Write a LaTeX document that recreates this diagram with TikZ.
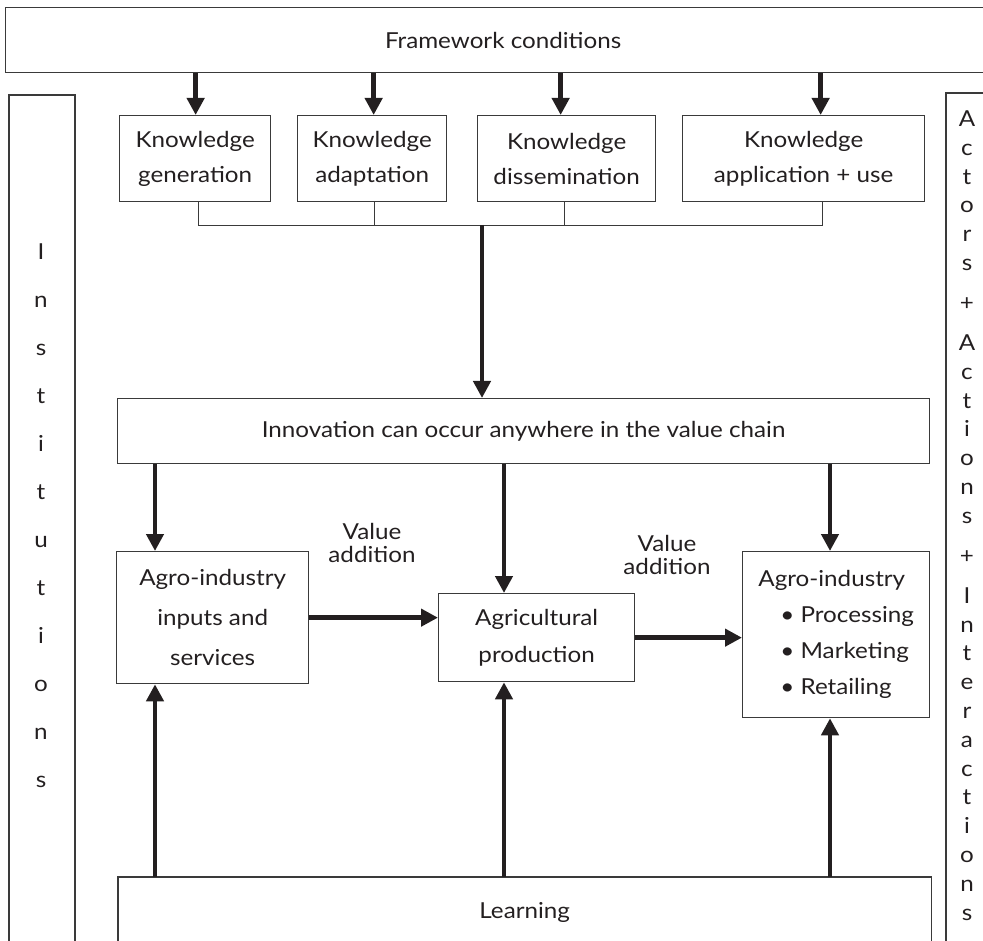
\documentclass[tikz,border=0pt]{standalone}
\usepackage{fontspec}
\setmainfont{Lato}[FakeStretch=1.10]
\usetikzlibrary{arrows.meta,calc}
\definecolor{ink}{HTML}{231F20}
\definecolor{rule}{HTML}{3A3A3A}
\begin{document}
\begin{tikzpicture}[x=1pt,y=-1pt,
  every node/.style={text=ink,font=\fontsize{22}{26}\selectfont},
  box/.style={draw=rule,line width=1.3pt,inner sep=0pt,align=center,anchor=north west},
  arr/.style={line width=4.5pt,draw=ink,-{Triangle[length=17pt,width=17pt]}},
  bus/.style={line width=0.9pt,draw=rule},
  edge/.style={line width=1.3pt,draw=rule},
  letter/.style={anchor=mid,inner sep=0pt}]
\useasboundingbox (0,0) rectangle (983,941);
\clip (0,0) rectangle (983,941);

% outer frame elements
\node[box,minimum width=995pt,minimum height=65pt] (frame) at (5,7) {Framework conditions};
\draw[edge] (9,960) |- (75,95) -- (75,960);
\draw[edge] (946,960) |- (1000,93);

% side labels, one letter per line
\foreach \ch [count=\i from 0] in {I,n,s,t,i,t,u,t,i,o,n,s}
  \node[letter] at (41,257+48*\i) {\ch};
\foreach \ch/\yy in {A/124,c/152.8,t/181.6,o/210.4,r/239.2,s/268,+/308,
  A/348,c/376.8,t/405.6,i/434.4,o/463.2,n/492,s/520.8,+/560.8,
  I/600.8,n/629.6,t/658.4,e/687.2,r/716,a/744.8,c/773.6,t/802.4,
  i/831.2,o/860,n/888.8,s/917.6}
  \node[letter] at (967,\yy) {\ch};

% knowledge boxes
\begin{scope}[every node/.append style={font=\fontsize{22}{35}\selectfont}]
\node[box,minimum width=151pt,minimum height=86pt] (kgen) at (119,115) {Knowledge\\generation};
\node[box,minimum width=149pt,minimum height=86pt] (kada) at (297,115) {Knowledge\\adaptation};
\node[box,minimum width=178pt,minimum height=86pt] (kdis) at (477,115) {Knowledge\\dissemination};
\node[box,minimum width=242pt,minimum height=86pt] (kapp) at (682,115) {Knowledge\\application + use};
\end{scope}

\draw[arr] ([xshift=0.5pt]kgen.north |- frame.south) -- ([xshift=0.5pt]kgen.north);
\draw[arr] ([xshift=1.5pt]kada.north |- frame.south) -- ([xshift=1.5pt]kada.north);
\draw[arr] ([xshift=-6pt]kdis.north |- frame.south) -- ([xshift=-6pt]kdis.north);
\draw[arr] ([xshift=17pt]kapp.north |- frame.south) -- ([xshift=17pt]kapp.north);

% collecting bus under the knowledge boxes
\coordinate (busy) at (0,225);
\coordinate (hub) at (482,225);
\draw[bus] ([xshift=3.5pt]kgen.south) -- ([xshift=3.5pt]kgen.south |- busy)
  -- ([xshift=19pt]kapp.south |- busy) -- ([xshift=19pt]kapp.south);
\draw[bus] ([xshift=2.5pt]kada.south) -- ([xshift=2.5pt]kada.south |- busy);
\draw[bus] ([xshift=-2pt]kdis.south) -- ([xshift=-2pt]kdis.south |- busy);

% innovation band
\node[box,minimum width=812pt,minimum height=65pt] (innov) at (117,398)
  {Innovation can occur anywhere in the value chain};
\draw[arr] (hub) -- (hub |- innov.north);

% value chain stages
\node[box,minimum width=192pt,minimum height=132pt,font=\fontsize{22}{40}\selectfont] (inputs) at (116,551)
  {Agro-industry\\inputs and\\services};
\node[box,minimum width=196pt,minimum height=88pt,font=\fontsize{22}{37}\selectfont] (agri) at (438,593)
  {Agricultural\\production};
\node[box,minimum width=187pt,minimum height=166pt,align=left,font=\fontsize{22}{36}\selectfont] (proc) at (742,551)
  {Agro-industry\\\hspace*{22pt}\textbullet\ Processing\\\hspace*{22pt}\textbullet\ Marketing\\\hspace*{22pt}\textbullet\ Retailing};

\node[align=center,font=\fontsize{22}{23}\selectfont] (va1) at (372,543) {Value\\addition};
\node[align=center,font=\fontsize{22}{23}\selectfont] (va2) at (667,555) {Value\\addition};

\draw[arr] (inputs.east) -- (inputs.east -| agri.west);
\draw[arr] (agri.east) -- (agri.east -| proc.west);

% learning band, open at the bottom
\node[inner sep=0pt,minimum width=813pt,minimum height=70pt,anchor=north west] (learn) at (118,877) {Learning};
\draw[edge] (learn.south west) |- (learn.north east) -- (learn.south east);

% vertical links through the chain
\coordinate (ca) at (155,0);
\coordinate (cb) at (504,0);
\coordinate (cc) at (830,0);
\draw[arr] (innov.south -| ca) -- (inputs.north -| ca);
\draw[arr] (innov.south -| cb) -- (agri.north -| cb);
\draw[arr] (innov.south -| cc) -- (proc.north -| cc);
\draw[arr] (learn.north -| ca) -- (inputs.south -| ca);
\draw[arr] (learn.north -| cb) -- (agri.south -| cb);
\draw[arr] (learn.north -| cc) -- (proc.south -| cc);
\end{tikzpicture}
\end{document}
